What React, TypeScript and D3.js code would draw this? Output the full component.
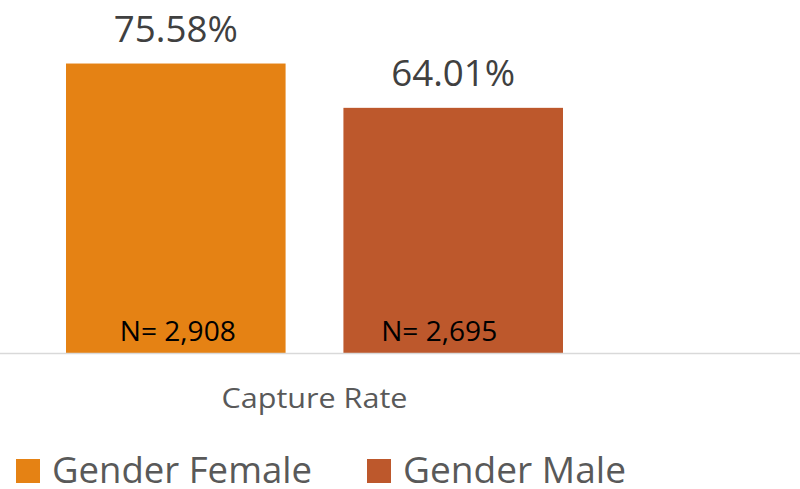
import React from "react";
import * as d3 from "d3";

const categories = ["Capture Rate"];
const seriesNames = ["Gender Female", "Gender Male"];
const seriesValues = [75.58, 64.01];
const valueLabels = ["75.58%", "64.01%"];
const nLabels = ["N= 2,908", "N= 2,695"];
const colors = ["#E58214", "#BD582C"];

const W = 800;
const H = 489;
const FONT = "'Open Sans', sans-serif";

export default function App() {
  const x0 = d3.scaleBand<string>().domain(categories).range([0, 629]).paddingOuter(0.1328);
  const x1 = d3
    .scaleBand<string>()
    .domain(seriesNames)
    .range([0, x0.bandwidth()])
    .paddingInner(0.2085);
  const y = d3.scaleLinear().domain([0, 80]).range([353, 46.6]);
  const nOffsets = [2, -14];
  const legendX = [16, 367];
  const legendTextW = [260, 223];

  return (
    <svg width={W} height={H} style={{ position: "absolute", left: 0, top: 0, background: "#fff" }}>
      {categories.map((c) => (
        <g key={c}>
          {seriesNames.map((s, i) => {
            const bx = (x0(c) ?? 0) + (x1(s) ?? 0);
            const bw = x1.bandwidth();
            const top = y(seriesValues[i]);
            const cx = bx + bw / 2;
            return (
              <g key={s}>
                <rect x={bx} y={top} width={bw} height={y(0) - top} fill={colors[i]} />
                <text
                  x={cx}
                  y={top - 22}
                  textAnchor="middle"
                  fontFamily={FONT}
                  fontSize={37}
                  fill="#404040"
                  textLength={124}
                  lengthAdjust="spacingAndGlyphs"
                >
                  {valueLabels[i]}
                </text>
                <text
                  x={cx + nOffsets[i]}
                  y={341}
                  textAnchor="middle"
                  fontFamily={FONT}
                  fontSize={28}
                  fill="#000"
                  textLength={116}
                  lengthAdjust="spacingAndGlyphs"
                >
                  {nLabels[i]}
                </text>
              </g>
            );
          })}
          <text
            x={(x0(c) ?? 0) + x0.bandwidth() / 2}
            y={408}
            textAnchor="middle"
            fontFamily={FONT}
            fontSize={28}
            fill="#595959"
            textLength={186}
            lengthAdjust="spacingAndGlyphs"
          >
            {c}
          </text>
        </g>
      ))}
      <line x1={0} x2={W} y1={353.5} y2={353.5} stroke="#d9d9d9" strokeWidth={1.5} />
      {seriesNames.map((s, i) => (
        <g key={s} transform={`translate(${legendX[i]},0)`}>
          <rect x={0} y={459} width={24} height={24} fill={colors[i]} />
          <text
            x={36}
            y={483}
            fontFamily={FONT}
            fontSize={36}
            fill="#595959"
            textLength={legendTextW[i]}
            lengthAdjust="spacingAndGlyphs"
          >
            {s}
          </text>
        </g>
      ))}
    </svg>
  );
}
